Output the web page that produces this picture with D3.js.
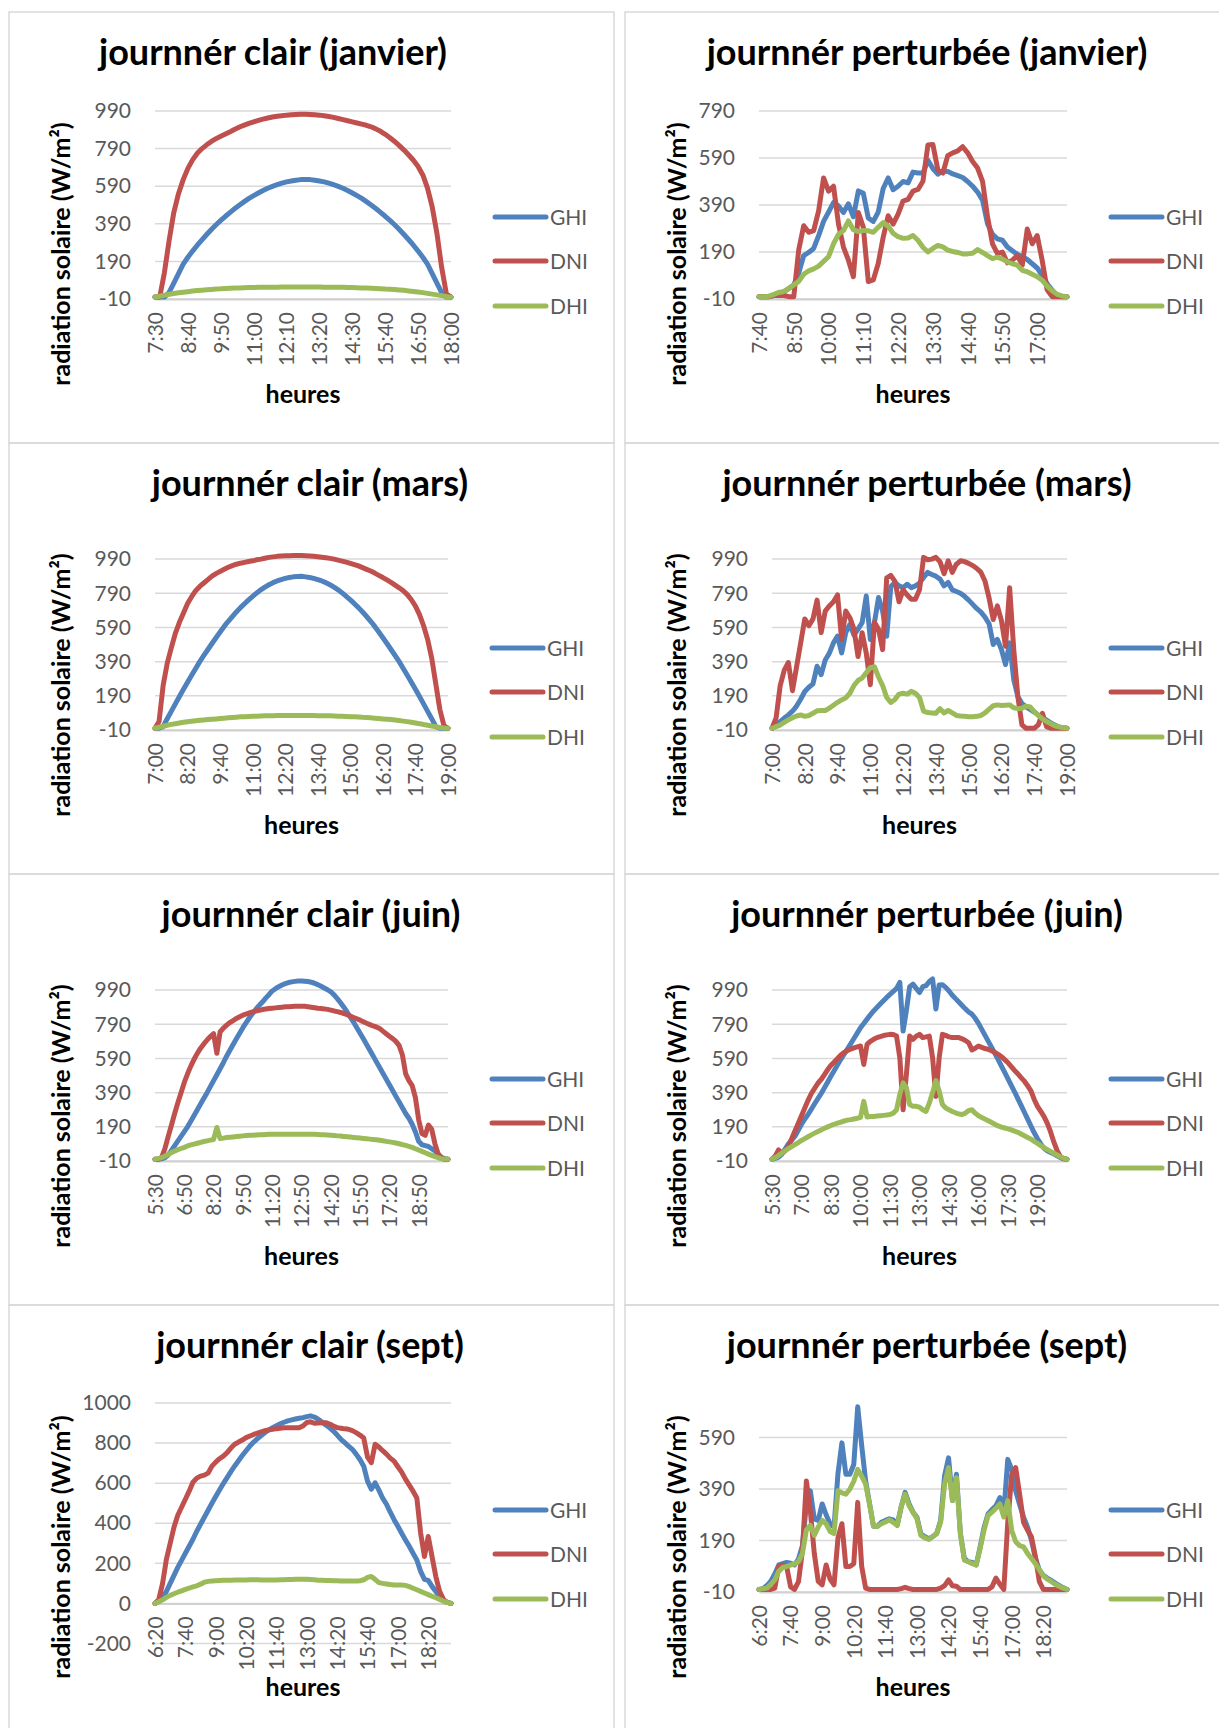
<!DOCTYPE html>
<html>
<head>
<meta charset="utf-8">
<script src="https://cdn.jsdelivr.net/npm/d3@7"></script>
<style>
  body { margin: 0; background: #fff; }
  svg text { font-family: Lato, "Open Sans", sans-serif; }
</style>
</head>
<body>
<svg id="fig" width="1219" height="1728"></svg>
<script>
// series names and colours (Excel default palette)
var seriesNames = ["GHI", "DNI", "DHI"];
var seriesColors = ["#4F81BD", "#C0504D", "#9BBB59"];

// y tick sets
var yTicks990 = [-10, 190, 390, 590, 790, 990];
var yTicks790 = [-10, 190, 390, 590, 790];
var yTicks590 = [-10, 190, 390, 590];
var yTicks1000 = [-200, 0, 200, 400, 600, 800, 1000];

// --- janvier, clair ---
var clairJanLabels = ["7:30","8:40","9:50","11:00","12:10","13:20","14:30","15:40","16:50","18:00"];
var clairJanGHI = [0,0,0,25,75,125,175,212,245,276,305,333,360,385,408,430,451,471,490,508,525,540,554,567,579,589,598,606,613,618,622,625,626,625,622,618,613,606,598,589,579,567,554,540,525,508,490,471,451,430,408,385,360,333,305,276,245,212,175,125,75,25,0,0];
var clairJanDNI = [0,0,130,300,450,550,625,685,730,765,790,810,828,843,856,868,880,893,905,915,924,932,940,947,953,958,962,965,968,970,972,973,973,972,970,968,965,961,956,950,944,938,932,926,920,914,906,895,882,866,848,828,806,782,756,728,695,650,580,480,340,160,20,0];
var clairJanDHI = [0,5,10,15,19,23,26,29,32,35,37,39,41,43,44,46,47,48,49,50,51,51,52,52,53,53,53,54,54,54,54,54,54,54,54,54,53,53,53,52,52,51,51,50,49,48,47,46,45,43,42,40,38,36,33,30,27,24,20,16,12,8,3,0];

// --- janvier, perturbée ---
var pertJanLabels = ["7:40","8:50","10:00","11:10","12:20","13:30","14:40","15:50","17:00"];
var pertJanGHI = [0,0,0,5,10,20,35,50,100,175,188,205,260,320,360,400,386,358,395,340,450,440,335,320,360,460,505,455,470,490,484,530,526,526,580,545,521,535,533,522,515,507,490,470,445,410,310,265,246,240,211,195,180,170,158,140,122,90,55,28,5,0,0];
var pertJanDNI = [0,0,0,5,5,5,0,0,200,302,274,281,365,505,449,470,309,211,155,85,358,295,64,71,141,253,344,309,351,407,414,449,456,491,645,647,540,526,600,612,620,638,612,575,547,491,340,225,183,190,144,155,176,134,288,225,260,155,29,0,0,0,0];
var pertJanDHI = [0,0,2,10,18,22,35,50,65,95,110,118,130,150,170,225,265,281,322,285,277,282,280,274,295,315,300,270,255,248,250,260,240,210,190,205,218,212,198,192,188,182,182,185,200,188,175,162,168,160,148,140,134,112,106,95,85,70,45,25,10,3,0];

// --- mars, clair ---
var marsLabels = ["7:00","8:20","9:40","11:00","12:20","13:40","15:00","16:20","17:40","19:00"];
var clairMarsGHI = [0,0,10,56,99,143,186,228,269,310,350,390,426,461,496,530,563,596,626,654,681,706,729,751,772,792,810,826,840,852,862,870,877,882,886,888,889,886,882,877,870,862,852,840,826,810,792,772,751,729,706,681,654,626,596,563,530,496,461,426,390,350,310,269,228,186,143,99,56,10,0,0,0];
var clairMarsDNI = [0,40,250,380,470,555,620,675,730,770,805,830,850,870,890,905,918,930,942,952,960,966,971,976,980,986,990,995,1000,1003,1006,1008,1009,1010,1011,1011,1011,1010,1008,1006,1004,1001,998,994,990,984,978,972,965,958,950,940,930,920,908,895,882,868,854,838,822,805,782,752,715,665,600,520,410,260,110,15,0];
var clairMarsDHI = [0,6,12,18,23,27,31,35,38,41,44,47,49,51,53,55,57,59,61,63,65,67,68,69,70,71,72,73,74,74,75,75,75,75,75,75,75,75,75,75,74,74,73,73,72,71,70,69,68,67,66,64,63,61,59,57,55,53,51,48,45,42,39,35,31,27,22,18,13,9,5,2,0];

// --- mars, perturbée ---
var pertMarsGHI = [0,15,39,60,78,100,130,170,215,240,260,363,314,400,440,500,539,441,559,608,545,580,618,774,520,618,765,686,539,830,853,833,823,843,823,833,850,882,912,900,890,873,833,853,810,800,790,772,750,725,700,680,650,610,490,520,461,373,500,284,186,145,125,110,95,78,60,49,32,20,8,3,0];
var pertMarsDNI = [0,60,250,340,385,220,360,500,640,600,640,750,560,686,716,740,780,520,686,647,580,420,559,441,255,620,580,460,880,895,860,740,810,780,755,755,810,1000,986,990,1000,975,905,980,912,960,980,975,965,952,935,912,860,760,637,716,630,480,823,461,186,20,0,0,0,20,88,10,0,0,0,0,0];
var pertMarsDHI = [0,10,19,35,49,62,72,78,70,75,88,102,104,104,118,135,152,166,178,205,250,280,294,325,355,360,300,250,180,151,168,200,205,200,216,205,180,100,92,90,88,115,90,104,90,75,72,70,68,68,70,75,90,112,132,137,133,135,137,120,115,117,130,125,98,75,55,40,28,15,8,3,0];

// --- juin, clair ---
var clairJuinLabels = ["5:30","6:50","8:20","9:50","11:20","12:50","14:20","15:50","17:20","18:50"];
var clairJuinGHI = [0,0,3,8,25,50,78,106,134,162,190,223,256,290,323,357,390,425,460,495,530,565,603,638,672,705,738,770,800,828,854,878,900,920,943,963,985,998,1010,1020,1028,1034,1038,1041,1043,1043,1042,1040,1036,1030,1022,1012,1002,992,980,962,940,916,890,862,832,802,770,738,705,672,638,605,570,537,503,470,436,402,368,335,302,268,240,205,160,105,85,80,75,62,48,30,12,3,0];
var clairJuinDNI = [0,0,10,60,130,196,265,330,390,450,500,545,585,620,650,675,698,718,735,620,745,768,785,800,812,824,834,843,850,857,863,868,872,876,879,882,884,886,888,890,892,893,894,895,896,896,895,893,890,887,884,882,880,877,873,868,864,859,853,846,838,830,822,814,805,796,788,780,774,765,750,735,720,706,690,665,610,500,460,431,360,230,150,140,200,175,90,30,5,0,0];
var clairJuinDHI = [0,4,10,18,28,39,48,56,63,70,78,84,89,94,99,104,108,112,116,186,121,124,127,129,131,133,135,137,139,140,141,142,143,144,145,146,146,147,147,147,147,147,147,147,147,147,147,147,146,146,145,144,143,142,141,139,137,136,134,132,130,128,126,124,122,120,118,116,114,111,108,105,102,99,95,91,86,81,76,70,62,54,46,38,30,23,16,9,4,1,0];

// --- juin, perturbée ---
var pertJuinLabels = ["5:30","7:00","8:30","10:00","11:30","13:00","14:30","16:00","17:30","19:00"];
var pertJuinGHI = [0,5,12,30,60,90,112,135,170,205,235,262,293,325,355,385,418,452,487,520,553,585,615,645,676,707,738,770,795,820,845,868,888,908,928,947,965,982,1000,1035,750,870,1010,1025,1000,976,1010,1016,1040,1055,880,1020,1021,1006,985,960,940,920,900,880,862,849,825,795,760,725,690,655,620,583,545,508,470,432,395,355,315,275,235,195,155,120,90,65,50,40,32,20,10,3,0];
var pertJuinDNI = [0,20,55,35,50,74,120,165,210,255,300,345,385,415,445,467,495,525,550,570,590,610,625,636,645,652,658,663,555,672,690,702,712,718,724,728,731,730,721,594,290,496,721,702,720,731,712,716,721,594,368,594,731,725,716,712,712,712,705,695,682,640,650,663,655,648,643,635,625,614,600,583,565,542,520,500,478,457,430,400,350,310,280,250,210,160,100,50,15,3,0];
var pertJuinDHI = [0,10,22,37,50,62,74,86,98,110,121,132,143,153,163,172,182,190,198,205,212,218,224,229,232,236,240,245,339,248,250,251,253,255,257,259,262,270,290,380,447,420,320,310,310,305,290,280,330,390,460,400,320,300,290,280,272,265,262,270,285,290,270,255,245,235,225,215,205,195,188,183,178,172,165,158,148,138,128,118,105,93,80,68,57,46,35,25,15,6,0];

// --- sept, clair ---
var septLabels = ["6:20","7:40","9:00","10:20","11:40","13:00","14:20","15:40","17:00","18:20"];
var clairSeptGHI = [0,10,28,60,100,140,180,215,250,285,320,360,395,430,465,500,533,566,598,628,658,686,712,738,762,785,805,822,838,853,866,877,887,896,904,911,916,920,924,927,932,936,930,919,905,890,877,860,840,819,802,785,769,745,718,685,610,570,602,565,525,495,455,418,385,350,317,285,250,217,160,120,115,85,60,35,15,5,0];
var clairSeptDNI = [0,20,100,220,300,380,440,480,520,560,605,625,635,640,650,685,705,722,735,752,775,794,805,815,827,835,843,850,856,862,866,869,872,874,876,877,877,877,877,885,903,906,899,900,902,902,895,885,877,874,871,869,862,852,840,825,730,702,794,780,762,745,725,710,682,655,620,590,560,526,351,234,334,234,134,60,20,5,0];
var clairSeptDHI = [0,8,18,30,40,48,56,63,70,76,82,88,96,106,110,112,113,114,115,116,116,117,117,117,117,118,118,118,117,117,117,117,117,118,118,119,119,120,120,120,120,119,118,116,115,114,114,113,113,112,112,112,112,112,113,118,130,134,120,104,100,97,94,92,92,92,90,84,76,68,60,52,44,36,28,20,12,5,0];

// --- sept, perturbée ---
var pertSeptGHI = [0,3,15,32,60,95,100,105,102,95,118,170,330,383,274,268,332,290,255,242,450,569,447,447,485,709,560,421,332,245,245,261,268,274,270,249,320,377,332,300,280,215,205,197,205,217,268,441,511,345,447,217,120,108,105,95,165,240,293,310,325,357,300,505,466,383,330,281,242,191,121,75,55,44,35,25,15,7,0];
var pertSeptDNI = [0,0,0,0,5,89,95,89,10,0,30,150,421,306,140,31,18,95,40,18,200,255,89,89,100,338,90,5,0,0,0,0,0,0,0,0,3,8,3,0,0,0,0,0,0,0,5,15,37,14,12,0,0,0,0,0,0,0,0,10,44,20,0,260,447,473,370,260,230,204,127,30,0,0,0,0,0,0,0];
var pertSeptDHI = [0,3,5,20,37,70,85,89,95,99,108,140,230,249,210,242,268,255,225,217,383,375,370,389,420,466,440,409,332,245,245,255,262,270,260,249,320,370,325,300,275,210,200,194,205,217,261,409,473,345,434,217,114,108,100,95,159,230,287,300,315,332,281,345,229,185,170,165,140,120,100,76,53,40,31,20,12,5,0];

// panel grid
var colX = [9, 625];
var colW = [605, 610];
var rowY = [12, 443, 874, 1305];
var panelH = 431;

var charts = [
  {title: "journnér clair (janvier)", col: 0, row: 0, titleX: 273, labels: clairJanLabels, step: 7,
   data: [clairJanGHI, clairJanDNI, clairJanDHI], yTicks: yTicks990, yDomain: [-10, 990], x0: 155, x1: 451},
  {title: "journnér perturbée (janvier)", col: 1, row: 0, titleX: 927, labels: pertJanLabels, step: 7,
   data: [pertJanGHI, pertJanDNI, pertJanDHI], yTicks: yTicks790, yDomain: [-10, 790], x0: 759, x1: 1067},
  {title: "journnér clair (mars)", col: 0, row: 1, titleX: 310, labels: marsLabels, step: 8,
   data: [clairMarsGHI, clairMarsDNI, clairMarsDHI], yTicks: yTicks990, yDomain: [-10, 1090], x0: 155, x1: 448},
  {title: "journnér perturbée (mars)", col: 1, row: 1, titleX: 927, labels: marsLabels, step: 8,
   data: [pertMarsGHI, pertMarsDNI, pertMarsDHI], yTicks: yTicks990, yDomain: [-10, 1090], x0: 772, x1: 1067},
  {title: "journnér clair (juin)", col: 0, row: 2, titleX: 311, labels: clairJuinLabels, step: 9,
   data: [clairJuinGHI, clairJuinDNI, clairJuinDHI], yTicks: yTicks990, yDomain: [-10, 1090], x0: 155, x1: 448},
  {title: "journnér perturbée (juin)", col: 1, row: 2, titleX: 927, labels: pertJuinLabels, step: 9,
   data: [pertJuinGHI, pertJuinDNI, pertJuinDHI], yTicks: yTicks990, yDomain: [-10, 1090], x0: 772, x1: 1067},
  {title: "journnér clair (sept)", col: 0, row: 3, titleX: 310, labels: septLabels, step: 8,
   data: [clairSeptGHI, clairSeptDNI, clairSeptDHI], yTicks: yTicks1000, yDomain: [-200, 1000], x0: 155, x1: 451,
   yRange: [338.5, 98], axisAt: 0},
  {title: "journnér perturbée (sept)", col: 1, row: 3, titleX: 927, labels: septLabels, step: 8,
   data: [pertSeptGHI, pertSeptDNI, pertSeptDHI], yTicks: yTicks590, yDomain: [-10, 720], x0: 759, x1: 1067}
];

var svg = d3.select("#fig");
svg.append("rect").attr("width", 1219).attr("height", 1728).attr("fill", "#fff");

charts.forEach(function(c) {
  var px = colX[c.col], py = rowY[c.row];
  var g = svg.append("g").attr("transform", "translate(0," + py + ")");

  // panel frame
  g.append("rect")
    .attr("x", px).attr("y", 0)
    .attr("width", colW[c.col]).attr("height", panelH)
    .attr("fill", "none").attr("stroke", "#d9d9d9").attr("stroke-width", 1.5);

  var n = c.data[0].length;
  var x = d3.scaleLinear().domain([0, n - 1]).range([c.x0, c.x1]);
  var y = d3.scaleLinear().domain(c.yDomain).range(c.yRange || [287, 99]);
  var axisY = y(c.axisAt !== undefined ? c.axisAt : c.yDomain[0]);

  // gridlines
  g.selectAll(".grid")
    .data(c.yTicks)
    .enter().append("line")
    .attr("x1", c.x0).attr("x2", c.x1)
    .attr("y1", function(d) { return y(d); })
    .attr("y2", function(d) { return y(d); })
    .attr("stroke", "#d9d9d9").attr("stroke-width", 1.5);

  // y axis labels (plain hyphen minus, no thousands separator)
  var yAxis = d3.axisLeft(y).tickValues(c.yTicks).tickSize(0).tickPadding(24)
    .tickFormat(function(d) { return String(d); });
  var ya = g.append("g").attr("transform", "translate(" + c.x0 + ",0)").call(yAxis);
  ya.select(".domain").remove();
  ya.selectAll("text")
    .attr("font-size", 21).attr("fill", "#595959")
    .style("font-family", "Lato, sans-serif");

  // x axis with rotated category labels
  var xAxis = d3.axisBottom(x)
    .tickValues(d3.range(0, n, c.step))
    .tickFormat(function(d, i) { return c.labels[i]; })
    .tickSize(0);
  var xa = g.append("g").attr("transform", "translate(0," + axisY + ")").call(xAxis);
  xa.select(".domain").attr("stroke", "#d0d0d0").attr("stroke-width", 2);
  xa.selectAll("text")
    .attr("transform", "rotate(-90)")
    .attr("x", -13).attr("y", 0).attr("dy", "0.35em")
    .attr("text-anchor", "end")
    .attr("font-size", 21).attr("fill", "#595959")
    .style("font-family", "Lato, sans-serif");

  // series
  var line = d3.line()
    .x(function(d, i) { return x(i); })
    .y(function(d) { return y(d); });
  c.data.forEach(function(vals, k) {
    g.append("path")
      .datum(vals)
      .attr("d", line)
      .attr("fill", "none")
      .attr("stroke", seriesColors[k])
      .attr("stroke-width", 5)
      .attr("stroke-linejoin", "round")
      .attr("stroke-linecap", "round");
  });

  // legend
  var legY = [205, 249, 294];
  seriesNames.forEach(function(name, k) {
    g.append("line")
      .attr("x1", c.x1 + 44).attr("x2", c.x1 + 95)
      .attr("y1", legY[k]).attr("y2", legY[k])
      .attr("stroke", seriesColors[k]).attr("stroke-width", 5)
      .attr("stroke-linecap", "round");
    g.append("text")
      .attr("x", c.x1 + 99).attr("y", legY[k]).attr("dy", "0.36em")
      .attr("font-size", 21).attr("fill", "#595959")
      .text(name);
  });

  // titles
  g.append("text")
    .attr("x", c.titleX).attr("y", 53)
    .attr("text-anchor", "middle")
    .attr("font-size", 36).attr("font-weight", 700).attr("fill", "#000")
    .text(c.title);

  g.append("text")
    .attr("transform", "translate(" + (px + 52) + ",242) rotate(-90)")
    .attr("text-anchor", "middle").attr("dy", "0.36em")
    .attr("font-size", 25).attr("font-weight", 700).attr("fill", "#000")
    .text("radiation solaire (W/m²)");

  g.append("text")
    .attr("x", (c.x0 + c.x1) / 2).attr("y", 382).attr("dy", "0.36em")
    .attr("text-anchor", "middle")
    .attr("font-size", 25).attr("font-weight", 700).attr("fill", "#000")
    .text("heures");
});
</script>
</body>
</html>
